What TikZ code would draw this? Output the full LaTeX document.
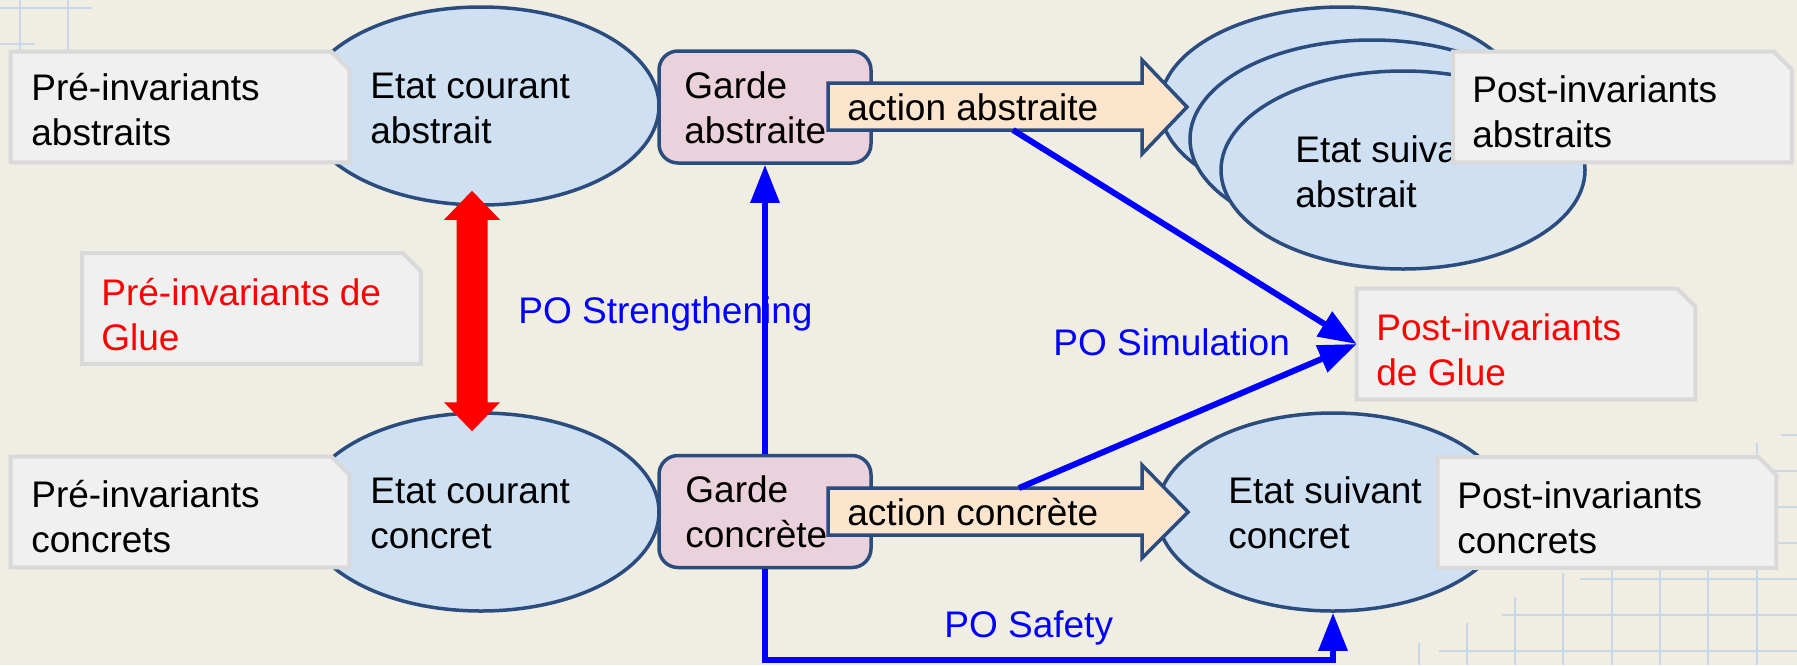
\documentclass[tikz,border=0pt]{standalone}
\usepackage{fontspec}
\setmainfont{Liberation Sans}
\usetikzlibrary{shapes.geometric,arrows.meta,calc}

\definecolor{bg}{HTML}{F0EDE2}
\definecolor{gridline}{HTML}{C9D8E8}
\definecolor{stateFill}{HTML}{CEE0F2}
\definecolor{outline}{HTML}{2B4C7E}
\definecolor{guardFill}{HTML}{EAD1DC}
\definecolor{actionFill}{HTML}{FDE5CD}
\definecolor{noteFill}{HTML}{F0F0F0}
\definecolor{noteEdge}{HTML}{D9D9D9}
\definecolor{poBlue}{HTML}{0000FF}
\definecolor{glueRed}{HTML}{FF0000}

% two lines of text, baseline on the first line
\newcommand{\twoline}[2]{\vtop{\hbox{#1}\hbox{#2}}}
% note box with a cut upper-right corner, drawn over an invisible node
\newcommand{\notebox}[1]{\filldraw[noteframe] (#1.south west) -- (#1.north west)
  -- ([xshift=-9pt]#1.north east) -- ([yshift=-9pt]#1.north east)
  -- (#1.south east) -- cycle;}

\begin{document}
\begin{tikzpicture}[x=0.5pt,y=-0.5pt,
  font=\fontsize{18.5}{22.5}\selectfont,
  stateshape/.style={ellipse, draw=outline, fill=stateFill, line width=1.75pt,
    inner sep=0pt, minimum width=178pt, minimum height=99pt},
  guardshape/.style={rectangle, rounded corners=9.5pt, draw=outline, fill=guardFill,
    line width=1.75pt, inner sep=0pt, minimum width=106pt, minimum height=56pt},
  actionshape/.style={draw=outline, fill=actionFill, line width=1.75pt, line join=miter},
  notearea/.style={rectangle, inner sep=0pt, minimum width=169pt, minimum height=55pt},
  noteframe/.style={draw=noteEdge, fill=noteFill, line width=2pt},
  txt/.style={anchor=base west, inner sep=0pt},
  po/.style={draw=poBlue, line width=3pt, -{Triangle[length=19pt,width=14pt]}},
  polabel/.style={txt, text=poBlue},
  gridrule/.style={draw=gridline, line width=1.25pt},
]
\useasboundingbox (0,0) rectangle (1797,665);
\fill[bg] (0,0) rectangle (1797,665);

% faint squared paper in two corners
\draw[gridrule] (20,0) -- (20,52) (68,0) -- (68,52) (0,8) -- (92,8) (0,44) -- (35,44);
\draw[gridrule] (1781,435) -- (1797,435) (1700,471) -- (1797,471)
  (1700,507) -- (1797,507) (1700,543) -- (1797,543) (1580,579) -- (1797,579)
  (1502,615) -- (1797,615) (1439,651) -- (1797,651);
\draw[gridrule] (1419,643) -- (1419,665) (1467,623) -- (1467,665)
  (1515,597) -- (1515,665) (1563,573) -- (1563,665) (1612,560) -- (1612,665)
  (1660,560) -- (1660,665) (1708,560) -- (1708,665) (1757,443) -- (1757,665);

% states
\node[stateshape] (ecA) at (481,106) {};
\node[stateshape] (ecC) at (481,512) {};
\node[stateshape, minimum width=182pt] (esA1) at (1342,106) {};
\node[stateshape, minimum width=182pt] (esA2) at (1372,139) {};
\node[stateshape, minimum width=182pt] (esA) at (1403,170) {};
\node[stateshape, minimum width=176pt] (esC) at (1333,512) {};
\node[txt] at (370,98) {\twoline{Etat courant}{abstrait}};
\node[txt] at (370,503) {\twoline{Etat courant}{concret}};
\node[txt] at (1295,162) {\twoline{Etat suivant}{abstrait}};
\node[txt] at (1228,503) {\twoline{Etat suivant}{concret}};

% invariant notes
\node[notearea] (preA) at (180,107) {};
\node[notearea] (preC) at (180,512) {};
\node[notearea] (glueP) at (251.5,308.5) {};
\node[notearea] (postA) at (1622.5,107) {};
\node[notearea] (glueQ) at (1526,344) {};
\node[notearea] (postC) at (1607,512.5) {};
\notebox{preA}\notebox{preC}\notebox{glueP}\notebox{postA}\notebox{glueQ}\notebox{postC}
\node[txt] at (31,100) {\twoline{Pré-invariants}{abstraits}};
\node[txt] at (31,507) {\twoline{Pré-invariants}{concrets}};
\node[txt, text=glueRed] at (101,305) {\twoline{Pré-invariants de}{Glue}};
\node[txt] at (1472,102) {\twoline{Post-invariants}{abstraits}};
\node[txt, text=glueRed] at (1376,340) {\twoline{Post-invariants}{de Glue}};
\node[txt] at (1457,508) {\twoline{Post-invariants}{concrets}};

% gluing relation between the two current states
\coordinate (gt) at ([xshift=-4.5pt,yshift=8pt]ecA.south);
\coordinate (gb) at ([xshift=-4.5pt,yshift=-10pt]ecC.north);
\fill[glueRed] (gt) -- ++(28,29) -- ++(-12.5,0) -- ($(gb)+(15.5,-29)$) -- ++(12.5,0)
  -- (gb) -- ++(-28,-29) -- ++(12.5,0) -- ($(gt)+(-15.5,29)$) -- ++(-12.5,0) -- cycle;

% guards
\node[guardshape] (gA) at (765,107) {};
\node[guardshape] (gC) at (765,511.5) {};
\node[txt] at (684,98) {\twoline{Garde}{abstraite}};
\node[txt] at (685,502) {\twoline{Garde}{concrète}};

% actions
\filldraw[actionshape] (828,83) -- (1142,83) -- (1142,60) -- (1187,107) -- (1142,154)
  -- (1142,130) -- (828,130) -- cycle;
\filldraw[actionshape] (828,488) -- (1142,488) -- (1142,465) -- (1188,512) -- (1142,558)
  -- (1142,535) -- (828,535) -- cycle;
\node[txt] at (847,120) {action abstraite};
\node[txt] at (847,525) {action concrète};
\coordinate (actAfoot) at (1013,130);
\coordinate (actChead) at (1019,488);

% proof obligations
\node[polabel] at (518,323) {PO Strengthening};
\node[polabel] at (1053,355) {PO Simulation};
\node[polabel] at (944,637) {PO Safety};
\draw[po] (gC.north) -- (gA.south);
\draw[po] (actAfoot) -- (glueQ.west);
\draw[po] (actChead) -- (glueQ.west);
\coordinate (safetyrow) at (0,660);
\draw[po] (gC.south) |- (esC.south |- safetyrow) -- (esC.south);
\end{tikzpicture}
\end{document}
